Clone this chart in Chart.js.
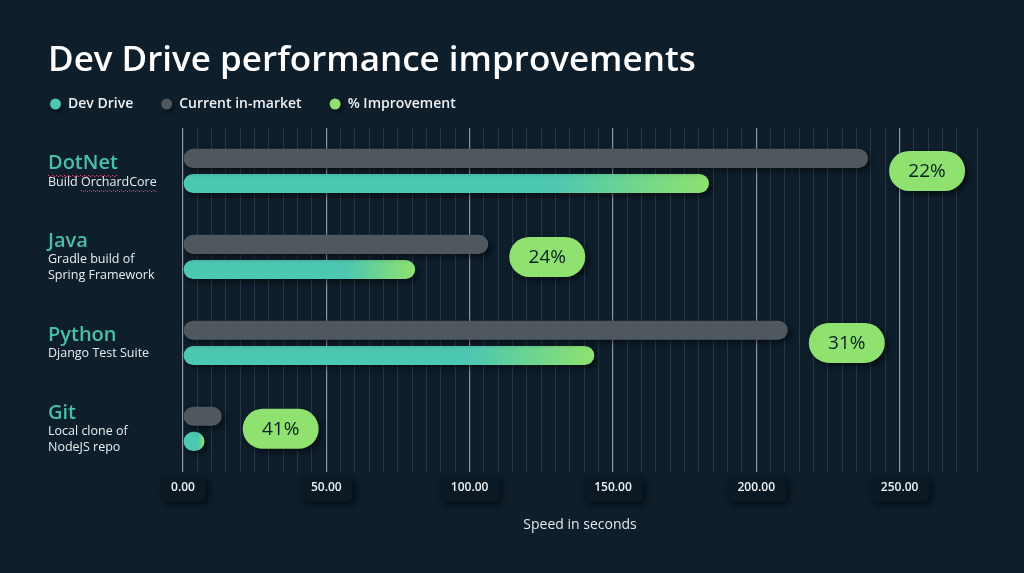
<!DOCTYPE html>
<html>
<head>
<meta charset="utf-8">
<script src="https://cdn.jsdelivr.net/npm/chart.js@4.4.1/dist/chart.umd.min.js"></script>
<style>
  html, body { margin: 0; padding: 0; background: #0e1e2b; }
  #wrap { width: 1024px; height: 573px; position: relative; }
</style>
</head>
<body>
<div id="wrap"><canvas id="perf-chart"></canvas></div>
<script>
// chart data
const categories = ['DotNet', 'Java', 'Python', 'Git'];
const subtitles = [
    ['Build OrchardCore'],
    ['Gradle build of', 'Spring Framework'],
    ['Django Test Suite'],
    ['Local clone of', 'NodeJS repo']
];
const currentInMarket = [239, 106.5, 211, 13.5];
const devDrive = [183.5, 81, 143.5, 7.5];
const improvement = [22, 24, 31, 41];
// words with the red spell-check squiggle in the original slide
const squiggled = ['DotNet', 'OrchardCore'];

const FONT = '"Open Sans", "Noto Sans", sans-serif';
const TEAL = '#4cc7b1';
const GREEN = '#8fe26f';
const GRAY = '#4f585f';

const legendItems = [
    { text: 'Dev Drive', color: TEAL },
    { text: 'Current in-market', color: GRAY },
    { text: '% Improvement', color: GREEN }
];

function setShadow(ctx, blur, off, alpha) {
    ctx.shadowColor = 'rgba(0, 0, 0, ' + alpha + ')';
    ctx.shadowBlur = blur;
    ctx.shadowOffsetX = off;
    ctx.shadowOffsetY = off;
}

// gradient teal -> green on the last part of each Dev Drive bar
function devDriveFill(context) {
    const chart = context.chart;
    if (!chart.chartArea || context.raw == null) return TEAL;
    const xScale = chart.scales.x;
    const x0 = xScale.getPixelForValue(0);
    const x1 = xScale.getPixelForValue(context.raw);
    const g = chart.ctx.createLinearGradient(x0, 0, x1, 0);
    g.addColorStop(0, TEAL);
    g.addColorStop(0.7, TEAL);
    g.addColorStop(1, GREEN);
    return g;
}

function drawSquiggle(ctx, x, y, w) {
    ctx.save();
    ctx.fillStyle = '#c8506e';
    for (let i = 0; i < w; i += 2) {
        ctx.fillRect(x + i, y + ((i / 2) % 2 === 0 ? 0 : 1), 1.2, 1);
    }
    ctx.restore();
}

// soft shadow under bars
const barShadow = {
    id: 'barShadow',
    beforeDatasetsDraw(chart) {
        chart.ctx.save();
        setShadow(chart.ctx, 6, 3, 0.55);
    },
    afterDatasetsDraw(chart) {
        chart.ctx.restore();
    }
};

// dark pills behind the x tick labels (drawn before the scale itself)
const tickPills = {
    id: 'tickPills',
    beforeDraw(chart) {
        const ctx = chart.ctx;
        const xs = chart.scales.x;
        const y = xs.top + 17;
        ctx.save();
        ctx.font = '600 12px ' + FONT;
        xs.ticks.forEach(t => {
            if (t.value % 50 !== 0) return;
            const x = xs.getPixelForValue(t.value);
            const w = ctx.measureText(t.value.toFixed(2)).width + 22;
            ctx.save();
            setShadow(ctx, 6, 3, 0.6);
            ctx.fillStyle = '#0b1924';
            ctx.beginPath();
            ctx.roundRect(x - w / 2, y - 13, w, 26, 6);
            ctx.fill();
            ctx.restore();
        });
        ctx.restore();
    }
};

// % improvement pills placed after the "current" bar
const improvementPills = {
    id: 'improvementPills',
    afterDatasetsDraw(chart) {
        const ctx = chart.ctx;
        const top = chart.getDatasetMeta(0).data;
        const bottom = chart.getDatasetMeta(1).data;
        const w = 76, h = 40, r = 20;
        improvement.forEach((v, i) => {
            if (!top[i] || !bottom[i]) return;
            const x = top[i].x + 21;
            const y = (top[i].y + bottom[i].y) / 2;
            ctx.save();
            setShadow(ctx, 6, 3, 0.6);
            ctx.fillStyle = GREEN;
            ctx.beginPath();
            ctx.roundRect(x, y - h / 2, w, h, r);
            ctx.fill();
            ctx.restore();
            ctx.save();
            ctx.fillStyle = '#0c1c27';
            ctx.font = '19px ' + FONT;
            ctx.textAlign = 'center';
            ctx.textBaseline = 'middle';
            ctx.fillText(v + '%', x + w / 2, y + 1);
            ctx.restore();
        });
    }
};

// two-level category labels on the left, and the legend row
const sideText = {
    id: 'sideText',
    afterDraw(chart) {
        const ctx = chart.ctx;
        const yScale = chart.scales.y;
        const left = 48;
        categories.forEach((name, i) => {
            const c = yScale.getPixelForValue(i);
            const subs = subtitles[i];
            const total = 22 + 16 * subs.length;
            let y = c - total / 2;
            ctx.save();
            ctx.textAlign = 'left';
            ctx.textBaseline = 'middle';
            ctx.fillStyle = '#49bfaa';
            ctx.font = '600 20px ' + FONT;
            ctx.fillText(name, left, y + 11);
            if (squiggled.includes(name)) {
                drawSquiggle(ctx, left, y + 23, ctx.measureText(name).width);
            }
            y += 22;
            ctx.fillStyle = '#e9eef1';
            ctx.font = '12.5px ' + FONT;
            subs.forEach(s => {
                ctx.fillText(s, left, y + 8);
                s.split(' ').forEach((word, k, arr) => {
                    if (!squiggled.includes(word)) return;
                    const pre = arr.slice(0, k).join(' ') + (k ? ' ' : '');
                    drawSquiggle(ctx, left + ctx.measureText(pre).width, y + 16,
                        ctx.measureText(word).width);
                });
                y += 16;
            });
            ctx.restore();
        });

        // legend
        let x = 50;
        const ly = 104;
        ctx.save();
        ctx.font = '600 14px ' + FONT;
        ctx.textBaseline = 'middle';
        legendItems.forEach(it => {
            ctx.save();
            setShadow(ctx, 4, 2, 0.6);
            ctx.fillStyle = it.color;
            ctx.beginPath();
            ctx.arc(x + 5.5, ly, 5.5, 0, Math.PI * 2);
            ctx.fill();
            ctx.restore();
            ctx.fillStyle = '#eef2f5';
            ctx.fillText(it.text, x + 18, ly);
            x += 18 + ctx.measureText(it.text).width + 28;
        });
        ctx.restore();
    }
};

new Chart(document.getElementById('perf-chart'), {
    type: 'bar',
    data: {
        labels: categories,
        datasets: [{
            label: 'Current in-market',
            data: currentInMarket,
            backgroundColor: GRAY,
            borderRadius: 10,
            borderSkipped: false,
            categoryPercentage: 0.585,
            barPercentage: 0.76
        }, {
            label: 'Dev Drive',
            data: devDrive,
            backgroundColor: devDriveFill,
            borderRadius: 10,
            borderSkipped: false,
            categoryPercentage: 0.585,
            barPercentage: 0.76
        }]
    },
    options: {
        indexAxis: 'y',
        responsive: true,
        maintainAspectRatio: false,
        animation: false,
        layout: { padding: { left: 48, right: 47, bottom: 36 } },
        scales: {
            x: {
                min: 0,
                max: 277,
                border: { display: false },
                grid: {
                    drawTicks: false,
                    lineWidth: ctx => (ctx.tick && ctx.tick.value % 50 === 0) ? 1.2 : 1,
                    color: ctx => {
                        if (!ctx.tick) return 'transparent';
                        return ctx.tick.value % 50 === 0 ? '#8a97a2' : 'rgba(120, 140, 160, 0.25)';
                    }
                },
                ticks: {
                    stepSize: 5,
                    autoSkip: false,
                    maxRotation: 0,
                    padding: 9,
                    color: '#eef2f5',
                    font: { family: FONT, size: 12, weight: '600' },
                    callback: v => (v % 50 === 0 ? v.toFixed(2) : '')
                },
                title: {
                    display: true,
                    text: 'Speed in seconds',
                    color: '#e3e9ed',
                    font: { family: FONT, size: 14 },
                    padding: { top: 12 }
                }
            },
            y: {
                border: { display: false },
                grid: { display: false },
                ticks: { display: false },
                afterFit: scale => { scale.width = 135; }
            }
        },
        plugins: {
            title: {
                display: true,
                text: 'Dev Drive performance improvements',
                align: 'start',
                color: '#ffffff',
                font: { family: FONT, size: 35, weight: '600' },
                padding: { top: 40, bottom: 46 }
            },
            legend: { display: false },
            tooltip: { enabled: false }
        }
    },
    plugins: [tickPills, barShadow, improvementPills, sideText]
});
</script>
</body>
</html>
